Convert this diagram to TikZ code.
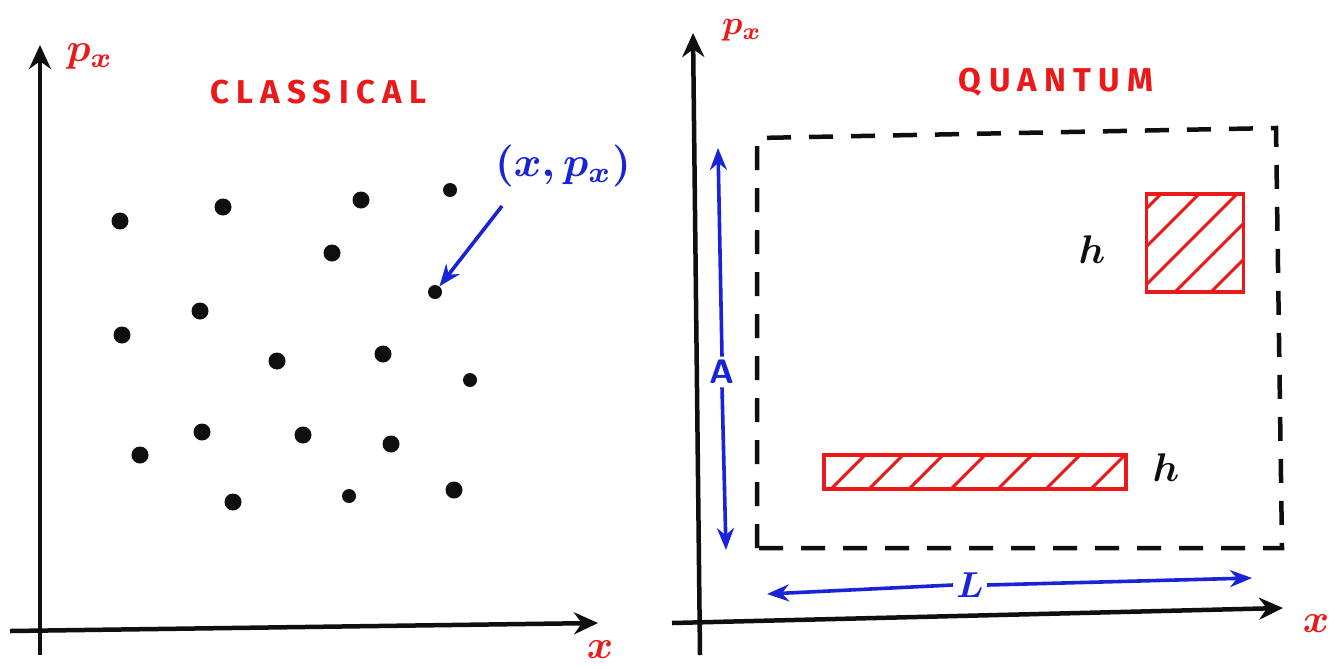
\documentclass[tikz,border=0pt]{standalone}
\usepackage{fontspec}
\newfontfamily\handfont[LetterSpace=22]{Fira Sans}
\usetikzlibrary{arrows.meta}
\newcommand\bigmath[2]{\scalebox{#1}{\boldmath$#2$}}
\definecolor{pen}{RGB}{15,15,15}
\definecolor{redink}{RGB}{235,25,25}
\definecolor{blueink}{RGB}{25,35,215}
\tikzset{
  axis/.style={draw=pen, line width=4.5pt, -{Stealth[length=24pt,width=22pt]}},
  dot/.style={circle, fill=pen, inner sep=0pt, minimum size=17pt},
  smalldot/.style={circle, fill=pen, inner sep=0pt, minimum size=14pt},
  redlabel/.style={text=redink},
  title/.style={text=redink, font=\handfont\bfseries\fontsize{33}{35}\selectfont},
  bluearrow/.style={draw=blueink, line width=3.6pt, -{Stealth[length=22pt,width=17pt]}},
  dashbox/.style={draw=pen, line width=4.5pt, dash pattern=on 24pt off 18pt},
  hatch/.style={draw=redink, line width=3pt},
  redbox/.style={draw=redink, line width=3.5pt, inner sep=0pt},
  hlabel/.style={text=pen},
  bluelabel/.style={text=blueink}
}
\begin{document}
\begin{tikzpicture}[x=1pt,y=-1pt]
\useasboundingbox (0,0) rectangle (1337,665);
\fill[white] (0,0) rectangle (1337,665);

% ---------- classical panel ----------
\coordinate (lo) at (40,655);
\coordinate (ly) at (40,45);
\coordinate (lxs) at (10,631);
\coordinate (lx) at (598,623);
\draw[axis] (lo) -- (ly);
\draw[axis] (lxs) -- (lx);
\node[redlabel] (lpx) at (90,56) {\bigmath{4}{p_x}};
\node[redlabel] (lxl) at (600,650) {\bigmath{4}{x}};
\node[title] (classical) at (318,92) {CLASSICAL};

\foreach \n/\x/\y/\s in {1/120/221/dot, 2/223/207/dot, 3/361/200/dot, 4/450/190/smalldot,
  5/332/253/dot, 6/435/292/smalldot, 7/200/311/dot, 8/122/335/dot, 9/277/361/dot,
  10/383/354/dot, 11/470/380/smalldot, 12/202/432/dot, 13/303/435/dot, 14/391/444/dot,
  15/140/455/dot, 16/233/502/dot, 17/349/496/smalldot, 18/454/490/dot}
  \node[\s] (d\n) at (\x,\y) {};

\node[bluelabel] (pt) at (563,166) {\bigmath{4.2}{(x,p_x)}};
\coordinate (ptarrow) at (502,206);
\draw[bluearrow] (ptarrow) -- (d6);

% ---------- quantum panel ----------
\coordinate (ro) at (700,655);
\coordinate (ry) at (693,33);
\coordinate (rxs) at (672,623);
\coordinate (rx) at (1283,608);
\draw[axis] (ro) -- (ry);
\draw[axis] (rxs) -- (rx);
\node[redlabel] (rpx) at (742,30) {\bigmath{3.4}{p_x}};
\node[redlabel] (rxl) at (1316,624) {\bigmath{4}{x}};
\node[title] (quantum) at (1056,82) {QUANTUM};

% dashed phase-space box
\coordinate (b1) at (757,548);
\coordinate (b2) at (757,138);
\coordinate (b3) at (1276,128);
\coordinate (b4) at (1282,548);
\draw[dashbox] (b1) -- (b2) -- (b3) -- (b4) -- cycle;

% blue dimension arrows
\coordinate (va) at (718,148);
\coordinate (vb) at (726,550);
\node[bluelabel, font=\fontsize{34}{36}\selectfont\sffamily\bfseries] (A) at (722,372) {A};
\draw[bluearrow] (A.north) -- (va);
\draw[bluearrow] (A.south) -- (vb);

\coordinate (ha) at (767,594);
\coordinate (hb) at (1252,578);
\node[bluelabel] (L) at (970,585) {\bigmath{3.6}{L}};
\draw[bluearrow] (L.west) -- (ha);
\draw[bluearrow] (L.east) -- (hb);

% hatched cells
\begin{scope}
  \clip (1146.5,194.5) rectangle (1243.5,291.5);
  \foreach \c in {1355,1393,1431,1467,1503}
    \draw[hatch] (\c-300,300) -- (\c-100,100);
\end{scope}
\node[redbox, minimum width=97pt, minimum height=98pt] (cell1) at (1195,243) {};
\node[hlabel] (h1) at (1092,250) {\bigmath{4}{h}};

\begin{scope}
  \clip (824,455) rectangle (1126,489);
  \foreach \c in {1320,1358,1398,1440,1487,1535,1580}
    \draw[hatch] (\c-500,500) -- (\c-440,440);
\end{scope}
\node[redbox, minimum width=302pt, minimum height=34pt] (cell2) at (975,472) {};
\node[hlabel] (h2) at (1166,468) {\bigmath{4}{h}};
\end{tikzpicture}
\end{document}
